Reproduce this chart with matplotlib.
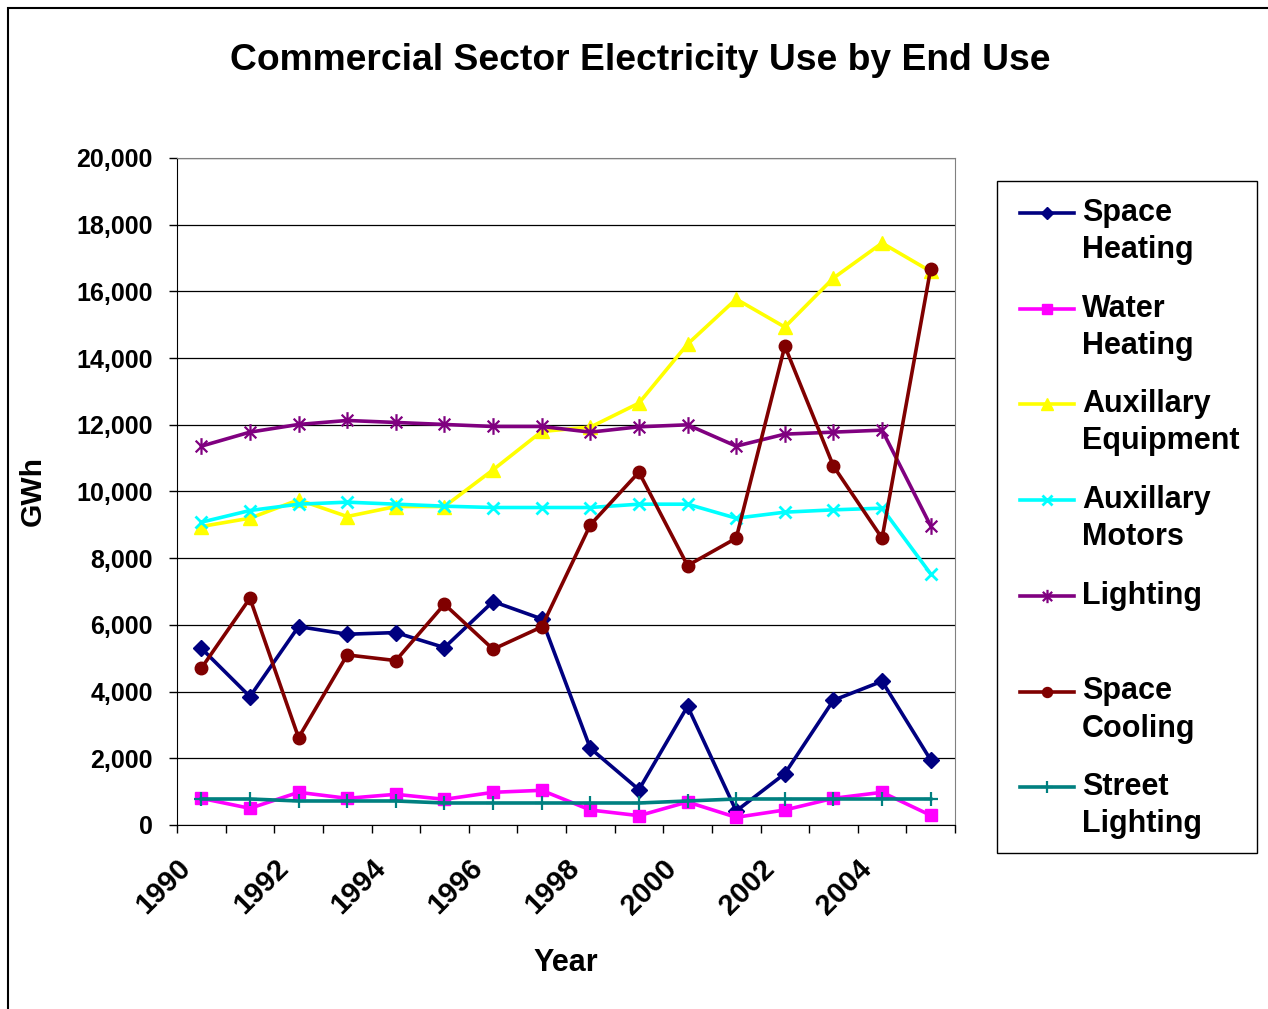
import numpy as np
import matplotlib
matplotlib.use("Agg")
import matplotlib.pyplot as plt
from matplotlib.path import Path
from matplotlib.lines import Line2D
from matplotlib.patches import Rectangle
from matplotlib.transforms import ScaledTranslation

plt.rcParams['font.family'] = ['Liberation Sans', 'DejaVu Sans']
plt.rcParams['font.weight'] = 'bold'

years = list(range(1990, 2006))
year_labels = ['1990', '1992', '1994', '1996', '1998', '2000', '2002', '2004']

space_heating = [5300, 3850, 5950, 5720, 5770, 5320, 6700, 6180,
                 2300, 1060, 3560, 420, 1540, 3740, 4310, 1950]
water_heating = [800, 500, 980, 800, 920, 770, 980, 1040,
                 450, 280, 690, 230, 450, 800, 980, 290]
aux_equipment = [8950, 9200, 9750, 9250, 9550, 9550, 10650, 11800,
                 11930, 12650, 14420, 15770, 14930, 16400, 17450, 16600]
aux_motors = [9080, 9430, 9620, 9680, 9620, 9560, 9520, 9520,
              9520, 9620, 9620, 9200, 9380, 9450, 9500, 7530]
lighting = [11360, 11780, 12010, 12130, 12070, 12010, 11950, 11950,
            11780, 11940, 12000, 11360, 11720, 11780, 11840, 8970]
space_cooling = [4700, 6800, 2620, 5100, 4930, 6620, 5270, 5940,
                 9000, 10580, 7780, 8600, 14360, 10760, 8600, 16680]
street_lighting = [780, 780, 720, 720, 720, 660, 660, 660,
                   660, 660, 720, 780, 780, 780, 780, 780]

names = ['Space\nHeating', 'Water\nHeating', 'Auxillary\nEquipment',
         'Auxillary\nMotors', 'Lighting\n', 'Space\nCooling', 'Street\nLighting']
series = [space_heating, water_heating, aux_equipment, aux_motors,
          lighting, space_cooling, street_lighting]

asterisk = Path([(0, -1), (0, 1), (-0.7, -0.7), (0.7, 0.7), (-0.7, 0.7), (0.7, -0.7)],
                [Path.MOVETO, Path.LINETO] * 3)

styles = [
    dict(color='#000080', marker='D', ms=8),
    dict(color='#FF00FF', marker='s', ms=8.5),
    dict(color='#FFFF00', marker='^', ms=10),
    dict(color='#00FFFF', marker='x', ms=9, mew=2),
    dict(color='#800080', marker=asterisk, ms=12, mew=1.6),
    dict(color='#800000', marker='o', ms=9),
    dict(color='#008080', marker='+', ms=10, mew=1.6),
]

W, H = 1268, 1009
fig = plt.figure(figsize=(W / 100, H / 100), dpi=100)

# chart area border (cut off at right / bottom)
fig.add_artist(Rectangle((8 / W, -0.05), 1.2, 1 - 8 / H + 0.05, transform=fig.transFigure,
                         fill=False, edgecolor='black', lw=1.5))

left, right, top, bottom = 177, 955, 158, 825
ax = fig.add_axes([left / W, 1 - bottom / H, (right - left) / W, (bottom - top) / H])

x = np.arange(len(years))
for vals, st in zip(series, styles):
    ax.plot(x, vals, lw=2.6, color=st['color'], marker=st['marker'], ms=st['ms'],
            mew=st.get('mew', 1), mec=st['color'], mfc=st['color'], clip_on=False)

ax.set_xlim(-0.5, len(years) - 0.5)
ax.set_ylim(0, 20000)
ax.set_yticks(range(0, 20001, 2000))
ax.set_yticklabels([f'{v:,}' for v in range(0, 20001, 2000)], fontsize=18, fontweight='bold')
ax.yaxis.grid(True, color='black', lw=0.9)
ax.set_axisbelow(True)

ax.set_xticks(np.arange(-0.5, len(years), 1))
ax.set_xticklabels([])
ax.set_xticks(x[::2], year_labels, minor=True)
ax.tick_params(axis='x', which='major', direction='out', length=6, width=1)
ax.tick_params(axis='x', which='minor', length=0, pad=21)
ax.tick_params(axis='y', direction='out', length=6, width=1, pad=11.5)
offset = ScaledTranslation(-0.05, 0, fig.dpi_scale_trans)
for lbl in ax.get_xticklabels(minor=True):
    lbl.set_rotation(45)
    lbl.set_ha('right')
    lbl.set_fontsize(21)
    lbl.set_fontweight('bold')
    lbl.set_transform(lbl.get_transform() + offset)

for s in ['top', 'right']:
    ax.spines[s].set_color('#808080')
for s in ['left', 'bottom']:
    ax.spines[s].set_color('black')

ax.set_ylabel('GWh', fontsize=21.5, fontweight='bold')
ax.yaxis.set_label_coords(-0.168, 0.5)
ax.set_xlabel('Year', fontsize=22, fontweight='bold')
ax.xaxis.set_label_coords(0.5, -0.185)

fig.text(640 / W, 1 - 60 / H, 'Commercial Sector Electricity Use by End Use',
         ha='center', va='center', fontsize=26.8, fontweight='bold')

# legend, drawn by hand so markers sit on the first label line
fig.add_artist(Rectangle((997 / W, 1 - 853 / H), 260 / W, 672 / H, transform=fig.transFigure,
                         fill=False, edgecolor='black', lw=1))
for i, (name, st) in enumerate(zip(names, styles)):
    y0 = 213 + i * 95.7
    fig.add_artist(Line2D([1020 / W, 1074 / W], [1 - y0 / H] * 2, transform=fig.transFigure,
                          color=st['color'], lw=2.6))
    fig.add_artist(Line2D([1047 / W], [1 - y0 / H], transform=fig.transFigure,
                          color=st['color'], marker=st['marker'], ms=st['ms'] * 0.8,
                          mew=st.get('mew', 1), mec=st['color'], mfc=st['color']))
    for k, line in enumerate(name.split('\n')):
        fig.text(1082 / W, 1 - (y0 + k * 37) / H, line, ha='left', va='center',
                 fontsize=22, fontweight='bold')

fig.savefig('out.png', dpi=100)
